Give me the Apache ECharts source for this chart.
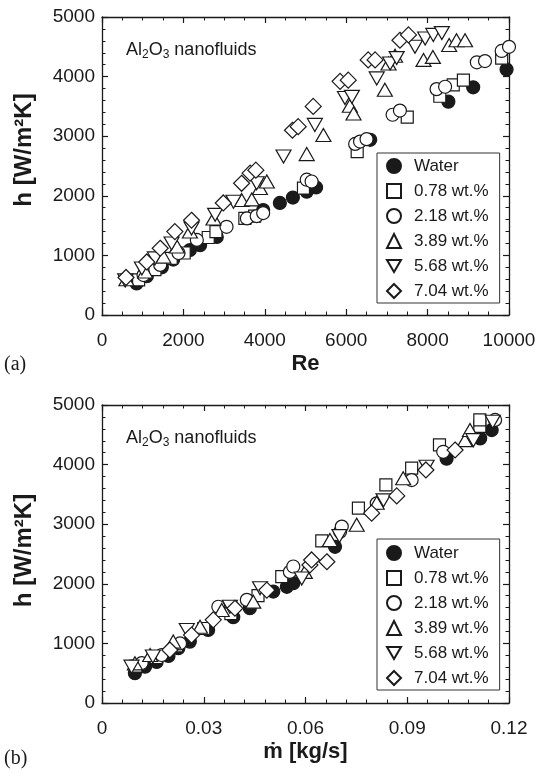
<!DOCTYPE html>
<html>
<head>
<meta charset="utf-8">
<script src="https://cdn.jsdelivr.net/npm/echarts@6/dist/echarts.min.js"></script>
<style>
html, body { margin: 0; padding: 0; background: #fff; }
#chart { width: 539px; height: 776px; }
</style>
</head>
<body>
<div id="chart"></div>
<script>
var names = ['Water', '0.78 wt.%', '2.18 wt.%', '3.89 wt.%', '5.68 wt.%', '7.04 wt.%'];

// panel (a): Re vs h
var waterRe = [850, 1100, 1470, 1750, 2160, 2410, 2820, 3960, 4370, 4690, 5030, 5260, 6590, 8510, 9120, 9940];
var waterHa = [530, 650, 800, 930, 1090, 1170, 1310, 1760, 1880, 1970, 2070, 2140, 2940, 3580, 3820, 4120];
var sq078Re = [900, 1300, 1700, 2020, 2610, 2800, 3510, 3750, 4950, 6270, 7500, 8300, 8630, 8880, 9820];
var sq078Ha = [590, 760, 950, 1040, 1300, 1400, 1620, 1660, 2130, 2740, 3320, 3670, 3860, 3940, 4310];
var ci218Re = [1020, 1430, 1880, 2330, 3060, 3560, 3800, 3960, 5030, 5150, 6220, 6340, 6500, 7140, 7320, 8220, 8430, 9210, 9410, 9820, 10000];
var ci218Ha = [670, 840, 1040, 1260, 1480, 1620, 1660, 1710, 2270, 2240, 2870, 2910, 2950, 3360, 3430, 3790, 3830, 4240, 4260, 4430, 4500];
var tr389Re = [600, 1060, 1510, 1840, 2160, 2740, 3430, 3680, 3880, 4050, 5030, 5440, 6090, 6180, 6950, 7040, 7200, 7900, 8130, 8530, 8710, 8920];
var tr389Ha = [600, 730, 980, 1150, 1400, 1620, 1930, 1940, 2130, 2240, 2700, 3020, 3510, 3380, 3780, 4220, 4350, 4280, 4330, 4530, 4610, 4610];
var dn568Re = [570, 980, 1300, 1710, 2200, 2780, 3230, 3800, 4460, 5230, 5970, 6140, 6750, 7080, 7240, 7690, 7940, 8140, 8350];
var dn568Ha = [580, 780, 950, 1200, 1450, 1680, 1900, 2210, 2660, 3190, 3640, 3660, 3970, 4220, 4310, 4500, 4640, 4700, 4730];
var di704Re = [590, 1100, 1430, 1790, 2200, 2980, 3430, 3640, 3780, 4680, 4820, 5190, 5850, 6050, 6540, 6710, 7320, 7530];
var di704Ha = [630, 890, 1120, 1400, 1590, 1880, 2210, 2380, 2430, 3100, 3160, 3500, 3920, 3940, 4280, 4280, 4610, 4700];

// panel (b): mass flow rate vs h
var waterM = [0.0097, 0.0127, 0.0161, 0.0196, 0.0225, 0.0259, 0.0313, 0.0387, 0.0436, 0.0505, 0.0545, 0.0564, 0.0687, 0.1016, 0.1115, 0.1149];
var waterHb = [500, 610, 690, 790, 920, 1030, 1225, 1440, 1590, 1870, 1950, 2010, 2620, 4100, 4440, 4580];
var sq078M = [0.0100, 0.0160, 0.0220, 0.0300, 0.0380, 0.0460, 0.0530, 0.0648, 0.0756, 0.0837, 0.0913, 0.0995, 0.1114, 0.1114];
var sq078Hb = [620, 760, 960, 1250, 1500, 1800, 2120, 2720, 3270, 3660, 3940, 4330, 4640, 4750];
var ci218M = [0.0117, 0.0176, 0.0230, 0.0343, 0.0427, 0.0554, 0.0564, 0.0702, 0.0707, 0.0810, 0.0913, 0.1006, 0.1159];
var ci218Hb = [670, 805, 1000, 1615, 1730, 2200, 2290, 2875, 2960, 3350, 3740, 4215, 4750];
var tr389M = [0.0097, 0.0142, 0.0210, 0.0289, 0.0353, 0.0446, 0.0598, 0.0672, 0.0751, 0.0810, 0.0888, 0.1070, 0.1085];
var tr389Hb = [665, 805, 1030, 1280, 1560, 1700, 2200, 2735, 2990, 3360, 3770, 4410, 4580];
var dn568M = [0.0087, 0.0150, 0.0250, 0.0377, 0.0466, 0.0589, 0.0700, 0.0830, 0.0957, 0.1095, 0.1152];
var dn568Hb = [610, 780, 1225, 1615, 1925, 2090, 2800, 3400, 3965, 4410, 4720];
var di704M = [0.0200, 0.0264, 0.0328, 0.0392, 0.0486, 0.0613, 0.0618, 0.0663, 0.0795, 0.0869, 0.0955, 0.1041];
var di704Hb = [890, 1140, 1395, 1590, 1895, 2315, 2400, 2370, 3185, 3475, 3910, 4245];

var xTicksA = { min: 0, max: 10000, interval: 2000 };
var xTicksB = { min: 0, max: 0.12, interval: 0.03 };
var yTicks = { min: 0, max: 5000, interval: 1000 };

function zip(xs, ys) {
    var out = [];
    for (var i = 0; i < xs.length; i++) out.push([xs[i], ys[i]]);
    return out;
}

var panelA = [zip(waterRe, waterHa), zip(sq078Re, sq078Ha), zip(ci218Re, ci218Ha),
              zip(tr389Re, tr389Ha), zip(dn568Re, dn568Ha), zip(di704Re, di704Ha)];
var panelB = [zip(waterM, waterHb), zip(sq078M, sq078Hb), zip(ci218M, ci218Hb),
              zip(tr389M, tr389Hb), zip(dn568M, dn568Hb), zip(di704M, di704Hb)];

var symbols = ['circle', 'rect', 'circle', 'triangle', 'path://M0,0L20,0L10,17Z', 'diamond'];
var sizes = [13, 12, 13, [15, 13], [15, 13], 16];
var ink = '#1a1a1a';

var chart = echarts.init(document.getElementById('chart'));

function axisCommon(extra) {
    var a = {
        type: 'value',
        axisLine: { show: true, onZero: false, lineStyle: { color: ink, width: 1.3 } },
        axisTick: { show: true, inside: true, length: 6, lineStyle: { color: ink, width: 1.2 } },
        minorTick: { show: true, splitNumber: 4, length: 3.5, lineStyle: { color: ink, width: 1 } },
        splitLine: { show: false },
        minorSplitLine: { show: false },
        axisLabel: { show: false }
    };
    for (var k in extra) a[k] = extra[k];
    return a;
}

var labelStyle = { fontSize: 19, color: ink, fontFamily: 'Liberation Sans' };
var nameStyle = { fontSize: 22, fontWeight: 'bold', color: ink, fontFamily: 'Liberation Sans' };

function xAxes(grid, ticks, title, fmt) {
    return [
        axisCommon({
            gridIndex: grid, position: 'bottom', min: ticks.min, max: ticks.max, interval: ticks.interval,
            minorTick: { show: true, splitNumber: grid === 0 ? 4 : 5, length: 3.5, lineStyle: { color: ink, width: 1 } },
            axisLabel: Object.assign({ show: true, margin: 16, formatter: fmt }, labelStyle),
            name: title, nameLocation: 'middle', nameGap: 38, nameTextStyle: nameStyle
        }),
        axisCommon({
            gridIndex: grid, position: 'top', min: ticks.min, max: ticks.max, interval: ticks.interval,
            minorTick: { show: true, splitNumber: grid === 0 ? 4 : 5, length: 3.5, lineStyle: { color: ink, width: 1 } }
        })
    ];
}

function yAxes(grid, shift) {
    return [
        axisCommon({
            gridIndex: grid, position: 'left', min: yTicks.min, max: yTicks.max, interval: yTicks.interval,
            minorTick: { show: true, splitNumber: 5, length: 3.5, lineStyle: { color: ink, width: 1 } },
            axisLabel: Object.assign({ show: true, margin: 7, formatter: function (v) { return String(v); } }, labelStyle),
            name: 'h [W/m²K]', nameLocation: 'middle', nameGap: 66, nameRotate: 90,
            nameTextStyle: { fontSize: 24, padding: [0, 0, 0, shift], fontWeight: 'bold', color: ink, fontFamily: 'Liberation Sans' }
        }),
        axisCommon({
            gridIndex: grid, position: 'right', min: yTicks.min, max: yTicks.max, interval: yTicks.interval,
            minorTick: { show: true, splitNumber: 5, length: 3.5, lineStyle: { color: ink, width: 1 } }
        })
    ];
}

var series = [];
[panelA, panelB].forEach(function (panel, p) {
    panel.forEach(function (data, i) {
        series.push({
            name: names[i],
            type: 'scatter',
            xAxisIndex: p * 2,
            yAxisIndex: p * 2,
            data: data,
            symbol: symbols[i],
            symbolSize: sizes[i],
            itemStyle: { color: i === 0 ? ink : '#fff', borderColor: ink, borderWidth: 1.2, opacity: 1 },
            z: 2 + i
        });
    });
});

function legendAt(top, padTop) {
    return {
        data: names, orient: 'vertical', left: 377, top: top,
        itemWidth: 14, itemHeight: 14, itemGap: 5,
        padding: [padTop, 11, 2, 9],
        borderColor: '#333', borderWidth: 1, selectedMode: false,
        textStyle: { fontSize: 17, lineHeight: 20, padding: [0, 0, 0, 8], color: ink, fontFamily: 'Liberation Sans' }
    };
}

var subText = { fontSize: 12, lineHeight: 12, padding: [9, 0, 0, 0], color: ink, fontFamily: 'Liberation Sans' };

var option = {
    animation: false,
    backgroundColor: '#fff',
    title: [
        { text: 'Al{sub|2}O{sub|3} nanofluids', left: 126, top: 40, padding: 0,
          textStyle: { fontSize: 18, lineHeight: 21, fontWeight: 'normal', color: ink, fontFamily: 'Liberation Sans', rich: { sub: subText } } },
        { text: 'Al{sub|2}O{sub|3} nanofluids', left: 126, top: 428, padding: 0,
          textStyle: { fontSize: 18, lineHeight: 21, fontWeight: 'normal', color: ink, fontFamily: 'Liberation Sans', rich: { sub: subText } } },
        { text: '(a)', left: 4, top: 355, padding: 0,
          textStyle: { fontSize: 20, fontWeight: 'normal', color: ink, fontFamily: 'Liberation Serif' } },
        { text: '(b)', left: 4, top: 749, padding: 0,
          textStyle: { fontSize: 20, fontWeight: 'normal', color: ink, fontFamily: 'Liberation Serif' } }
    ],
    legend: [legendAt(153, 3), legendAt(539, 4)],
    grid: [
        { left: 102, top: 17, width: 407, height: 298, outerBoundsMode: 'none' },
        { left: 102, top: 405, width: 407, height: 298, outerBoundsMode: 'none' }
    ],
    xAxis: xAxes(0, xTicksA, 'Re', function (v) { return String(v); })
        .concat(xAxes(1, xTicksB, 'ṁ [kg/s]', function (v) { return v === 0 ? '0' : v.toFixed(2); })),
    yAxis: yAxes(0, 32).concat(yAxes(1, 7)),
    series: series
};

chart.setOption(option);
</script>
</body>
</html>
